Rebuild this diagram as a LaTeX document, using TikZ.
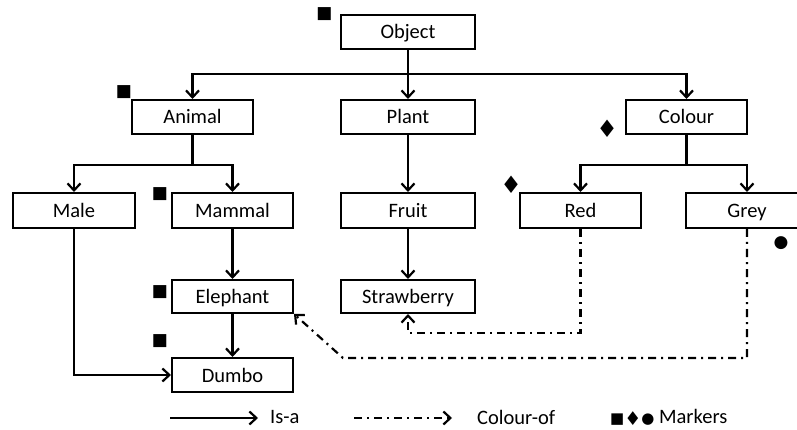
\documentclass[tikz,border=0pt]{standalone}
\usepackage{fontspec}
\setmainfont{Carlito}
\newfontfamily\symfont{DejaVu Sans}
\usetikzlibrary{arrows.meta}
\tikzset{
  box/.style={draw, line width=2pt, minimum height=34pt, inner sep=0pt, text height=16pt, text depth=2pt, font=\fontsize{20.5}{24}\selectfont},
  isa/.style={line width=2.2pt, -{Straight Barb[length=7pt,width=13pt]}},
  colof/.style={line width=2.2pt, dash pattern=on 8pt off 5pt on 2pt off 5pt, -{Straight Barb[length=7pt,width=13pt]}},
  markerglyph/.style={font=\symfont\fontsize{17}{17}\selectfont, inner sep=0pt},
  legend/.style={anchor=west, inner sep=0pt, font=\fontsize{20.5}{24}\selectfont}
}
\begin{document}
\begin{tikzpicture}[x=1pt,y=-1pt]
\useasboundingbox (0,0) rectangle (797,430);
% classes
\node[box, minimum width=134pt] (object) at (408,32) {Object};
\node[box, minimum width=121pt] (animal) at (192.5,117) {Animal};
\node[box, minimum width=134pt] (plant) at (408,117) {Plant};
\node[box, minimum width=121pt] (colour) at (686.5,117) {Colour};
\node[box, minimum width=122pt, minimum height=35pt] (male) at (74,210.5) {Male};
\node[box, minimum width=121pt, minimum height=35pt] (mammal) at (232.5,210.5) {Mammal};
\node[box, minimum width=134pt, minimum height=35pt] (fruit) at (408,210.5) {Fruit};
\node[box, minimum width=121pt, minimum height=35pt] (red) at (580.5,210.5) {Red};
\node[box, minimum width=122pt, minimum height=35pt] (grey) at (747,210.5) {Grey};
\node[box, minimum width=121pt, minimum height=33pt] (elephant) at (232.5,296.5) {Elephant};
\node[box, minimum width=134pt, minimum height=33pt] (strawberry) at (408,296.5) {Strawberry};
\node[box, minimum width=121pt] (dumbo) at (232.5,375) {Dumbo};
% markers
\node[markerglyph] (mobject) at (324.5,14.5) {■};
\node[markerglyph] (manimal) at (124,92) {■};
\node[markerglyph] (mmammal) at (160,194) {■};
\node[markerglyph] (melephant) at (160,292.5) {■};
\node[markerglyph] (mdumbo) at (160,341) {■};
\node[markerglyph, font=\symfont\fontsize{24}{24}\selectfont] (mcolour) at (607,129) {♦};
\node[markerglyph, font=\symfont\fontsize{24}{24}\selectfont] (mred) at (511,185) {♦};
\node[markerglyph] (mgrey) at (781,243) {●};
% is-a
\draw[isa] (object.south) -- ++(0,24) -| (animal.north);
\draw[isa] (object.south) -- ++(0,24) -| (colour.north);
\draw[isa] (object.south) -- (plant.north);
\draw[isa] (animal.south) -- ++(0,30) -| (male.north);
\draw[isa] (animal.south) -- ++(0,30) -| (mammal.north);
\draw[isa] (colour.south) -- ++(0,30) -| (red.north);
\draw[isa] (colour.south) -- ++(0,30) -| (grey.north);
\draw[isa] (plant) -- (fruit);
\draw[isa] (fruit) -- (strawberry);
\draw[isa] (mammal) -- (elephant);
\draw[isa] (elephant) -- (dumbo);
\draw[isa] (male.south) |- (dumbo.west);
% colour-of
\coordinate (redturn) at (408,333);
\coordinate (greyturn) at (343,358);
\draw[colof] (red.south) |- (redturn) -- (strawberry.south);
\draw[colof] (grey.south) |- (greyturn) -- (elephant.south east);
% legend
\coordinate (isastart) at (170,418);
\node[legend] (isatext) at (270,417) {Is-a};
\draw[isa] (isastart) -- ([xshift=-12pt]isatext.west |- isastart);
\coordinate (colstart) at (354,418);
\node[legend] (coltext) at (477,417) {Colour-of};
\draw[colof] (colstart) -- ([xshift=-25pt]coltext.west |- colstart);
\node[legend] (marktext) at (610,417) {{\symfont\fontsize{15}{15}\selectfont ■\raisebox{-2pt}{\fontsize{19}{19}\selectfont♦}●} Markers};
\end{tikzpicture}
\end{document}
